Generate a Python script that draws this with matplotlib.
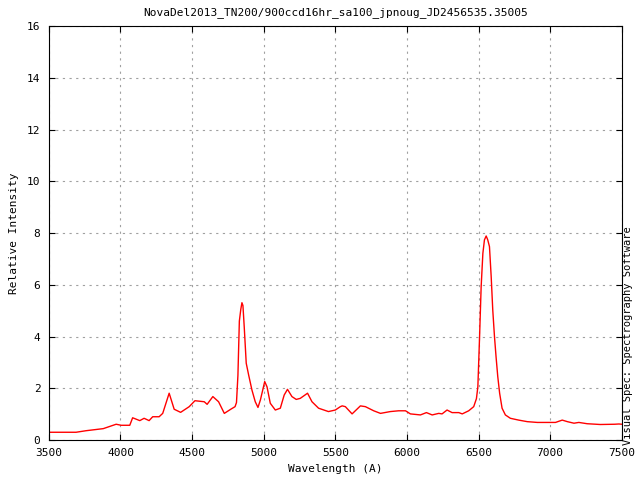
import numpy as np
import matplotlib.pyplot as plt

plt.switch_backend('Agg')
plt.rcParams['font.family'] = 'DejaVu Sans Mono'
plt.rcParams['font.size'] = 8

title = 'NovaDel2013_TN200/900ccd16hr_sa100_jpnoug_JD2456535.35005'

### spectrum
wave = [3500, 3540, 3690, 3760, 3880, 3970, 4005, 4065, 4085, 4135,
        4165, 4200, 4225, 4270, 4295, 4340, 4375, 4420, 4480, 4520,
        4585, 4605, 4645, 4685, 4725, 4770, 4800, 4810, 4820, 4830,
        4840, 4848, 4855, 4864, 4878, 4895, 4918, 4941, 4960, 4977,
        5007, 5023, 5046, 5081, 5116, 5143, 5166, 5197, 5227, 5255,
        5278, 5306, 5337, 5383, 5452, 5500, 5535, 5548, 5570, 5617,
        5675, 5710, 5768, 5815, 5884, 5942, 5990, 6024, 6094, 6136,
        6176, 6222, 6245, 6280, 6315, 6362, 6386, 6431, 6466, 6485,
        6495, 6507, 6518, 6530, 6541, 6553, 6564, 6576, 6588, 6599,
        6611, 6622, 6634, 6647, 6664, 6687, 6722, 6780, 6840, 6910,
        7037, 7084, 7120, 7166, 7200, 7258, 7350, 7450, 7480, 7500]
flux = [0.30, 0.30, 0.30, 0.36, 0.44, 0.61, 0.57, 0.57, 0.86, 0.75,
        0.84, 0.75, 0.90, 0.90, 1.03, 1.81, 1.19, 1.07, 1.29, 1.52,
        1.48, 1.38, 1.68, 1.48, 1.03, 1.19, 1.29, 1.45, 2.50, 4.60,
        5.05, 5.31, 5.20, 4.38, 2.97, 2.51, 1.93, 1.48, 1.26, 1.55,
        2.26, 2.06, 1.42, 1.16, 1.23, 1.74, 1.96, 1.68, 1.57, 1.61,
        1.70, 1.81, 1.48, 1.23, 1.10, 1.16, 1.29, 1.32, 1.29, 1.01,
        1.32, 1.29, 1.13, 1.03, 1.10, 1.13, 1.13, 1.01, 0.97, 1.06,
        0.97, 1.03, 1.01, 1.16, 1.06, 1.06, 1.01, 1.13, 1.29, 1.60,
        2.06, 4.00, 5.93, 7.22, 7.74, 7.89, 7.74, 7.48, 6.32, 5.03,
        4.00, 3.22, 2.45, 1.81, 1.23, 0.97, 0.84, 0.77, 0.71, 0.68,
        0.68, 0.77, 0.71, 0.65, 0.68, 0.63, 0.60, 0.61, 0.62, 0.61]

fig = plt.figure(figsize=(6.4, 4.8), dpi=100)
ax = fig.add_axes([0.0763, 0.0833, 0.8953, 0.862])

ax.plot(wave, flux, color='red', lw=1)

ax.set_xlim(3500, 7500)
ax.set_ylim(0, 16)
ax.set_xticks(np.arange(3500, 7501, 500))
ax.set_yticks(np.arange(0, 17, 2))
ax.grid(True, color='#a0a0a0', linestyle=(0, (2, 4)), lw=0.8)
ax.tick_params(direction='in', top=True, right=True, length=4, pad=6)

ax.set_title(title, fontsize=8, pad=8)
ax.set_xlabel('Wavelength (A)', labelpad=4)
ax.set_ylabel('Relative Intensity', labelpad=6)
fig.text(0.982, 0.30, 'Visual Spec: Spectrography Software', rotation=90,
         ha='center', va='center', fontsize=7.5)

plt.savefig('out.png')
